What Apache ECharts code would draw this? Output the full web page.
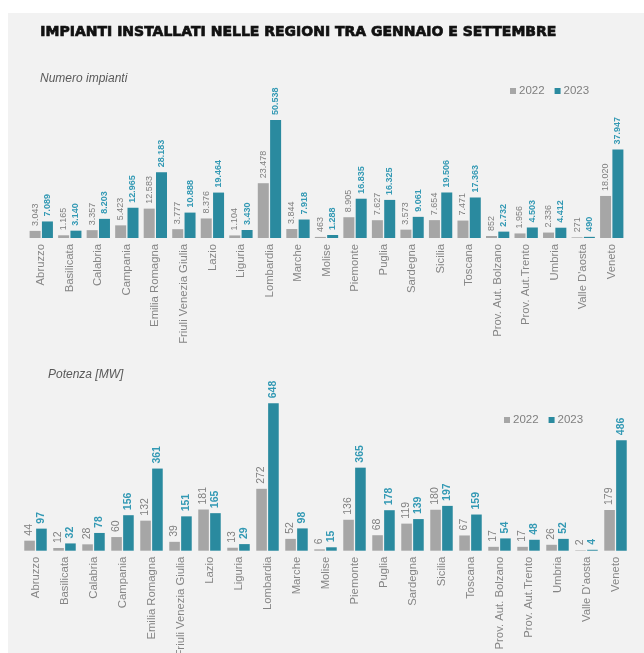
<!DOCTYPE html>
<html>
<head>
<meta charset="utf-8">
<script src="https://cdn.jsdelivr.net/npm/echarts@6/dist/echarts.min.js"></script>
<style>
  html, body { margin: 0; padding: 0; background: #ffffff; }
  #chart { width: 644px; height: 653px; }
</style>
</head>
<body>
<div id="chart"></div>
<script>
// Regioni italiane (asse delle categorie, comune ai due grafici)
const regioni = [
  'Abruzzo', 'Basilicata', 'Calabria', 'Campania', 'Emilia Romagna',
  'Friuli Venezia Giulia', 'Lazio', 'Liguria', 'Lombardia', 'Marche',
  'Molise', 'Piemonte', 'Puglia', 'Sardegna', 'Sicilia', 'Toscana',
  'Prov. Aut. Bolzano', 'Prov. Aut.Trento', 'Umbria', "Valle D'aosta", 'Veneto'
];

// Numero impianti installati (gennaio-settembre)
const impianti2022 = [3043, 1165, 3357, 5423, 12583, 3777, 8376, 1104, 23478, 3844,
  463, 8905, 7627, 3573, 7654, 7471, 852, 1956, 2336, 271, 18020];
const impianti2023 = [7089, 3140, 8203, 12965, 28183, 10888, 19464, 3430, 50538, 7918,
  1288, 16835, 16325, 9061, 19506, 17363, 2732, 4503, 4412, 490, 37947];

// Potenza installata [MW]
const potenza2022 = [44, 12, 28, 60, 132, 39, 181, 13, 272, 52,
  6, 136, 68, 119, 180, 67, 17, 17, 26, 2, 179];
const potenza2023 = [97, 32, 78, 156, 361, 151, 165, 29, 648, 98,
  15, 365, 178, 139, 197, 159, 54, 48, 52, 4, 486];

const anni = ['2022', '2023'];

const GRIGIO = '#a6a6a6';
const TEAL = '#2a8a9f';
const TEAL_TESTO = '#3399b4';
const GRIGIO_TESTO = '#7f7f7f';

// separatore delle migliaia all'italiana
const formatta = v => String(v).replace(/\B(?=(\d{3})+(?!\d))/g, '.');

function serie(nome, dati, idx, colore, coloreTesto, grassetto, size) {
  return {
    name: nome,
    type: 'bar',
    xAxisIndex: idx,
    yAxisIndex: idx,
    data: dati,
    barWidth: idx === 0 ? 11 : 10.6,
    barGap: '12%',
    itemStyle: { color: colore },
    label: {
      show: true,
      position: 'top',
      rotate: 90,
      align: 'left',
      verticalAlign: 'middle',
      distance: 5,
      color: coloreTesto,
      fontSize: size,
      fontWeight: grassetto ? 'bold' : 'normal',
      fontFamily: 'Liberation Sans',
      formatter: p => formatta(p.value)
    }
  };
}

function asseX(idx) {
  return {
    type: 'category',
    gridIndex: idx,
    data: regioni,
    axisTick: { show: false },
    axisLine: { show: false },
    axisLabel: {
      rotate: 90,
      interval: 0,
      margin: 6,
      color: '#858585',
      fontSize: 11.3,
      fontFamily: 'Liberation Sans'
    }
  };
}

function legenda(left, top) {
  return {
    data: anni,
    left: left,
    top: top,
    icon: 'rect',
    itemWidth: 6,
    itemHeight: 6,
    itemGap: 10,
    textStyle: { color: GRIGIO_TESTO, fontSize: 11.5, fontFamily: 'Liberation Sans', padding: [0, 0, 0, -2] }
  };
}

const chart = echarts.init(document.getElementById('chart'), null, { renderer: 'canvas' });

chart.setOption({
  backgroundColor: '#ffffff',
  animation: false,
  graphic: [
    { type: 'rect', z: -10, shape: { x: 8, y: 13, width: 640, height: 645 }, style: { fill: '#f2f2f2' } },
    {
      type: 'text', left: 40, top: 25,
      style: {
        text: 'IMPIANTI INSTALLATI NELLE REGIONI TRA GENNAIO E SETTEMBRE',
        fill: '#111111', stroke: '#111111', lineWidth: 0.7,
        font: '900 14px "DejaVu Sans"'
      }
    },
    {
      type: 'text', left: 40, top: 73,
      style: { text: 'Numero impianti', fill: '#595959', font: 'italic 12px "Liberation Sans"' }
    },
    {
      type: 'text', left: 48, top: 369,
      style: { text: 'Potenza [MW]', fill: '#595959', font: 'italic 12px "Liberation Sans"' }
    }
  ],
  legend: [legenda(505, 80), legenda(499, 409)],
  grid: [
    { left: 27, width: 599, top: 98, height: 140, outerBoundsMode: 'none' },
    { left: 21, width: 609, top: 368.7, height: 182, outerBoundsMode: 'none' }
  ],
  xAxis: [asseX(0), asseX(1)],
  yAxis: [
    { type: 'value', gridIndex: 0, min: 0, max: 60000, show: false },
    { type: 'value', gridIndex: 1, min: 0, max: 800, show: false }
  ],
  series: [
    serie(anni[0], impianti2022, 0, GRIGIO, GRIGIO_TESTO, false, 9),
    serie(anni[1], impianti2023, 0, TEAL, TEAL_TESTO, true, 9),
    serie(anni[0], potenza2022, 1, GRIGIO, GRIGIO_TESTO, false, 10.5),
    serie(anni[1], potenza2023, 1, TEAL, TEAL_TESTO, true, 10.5)
  ]
});
</script>
</body>
</html>
